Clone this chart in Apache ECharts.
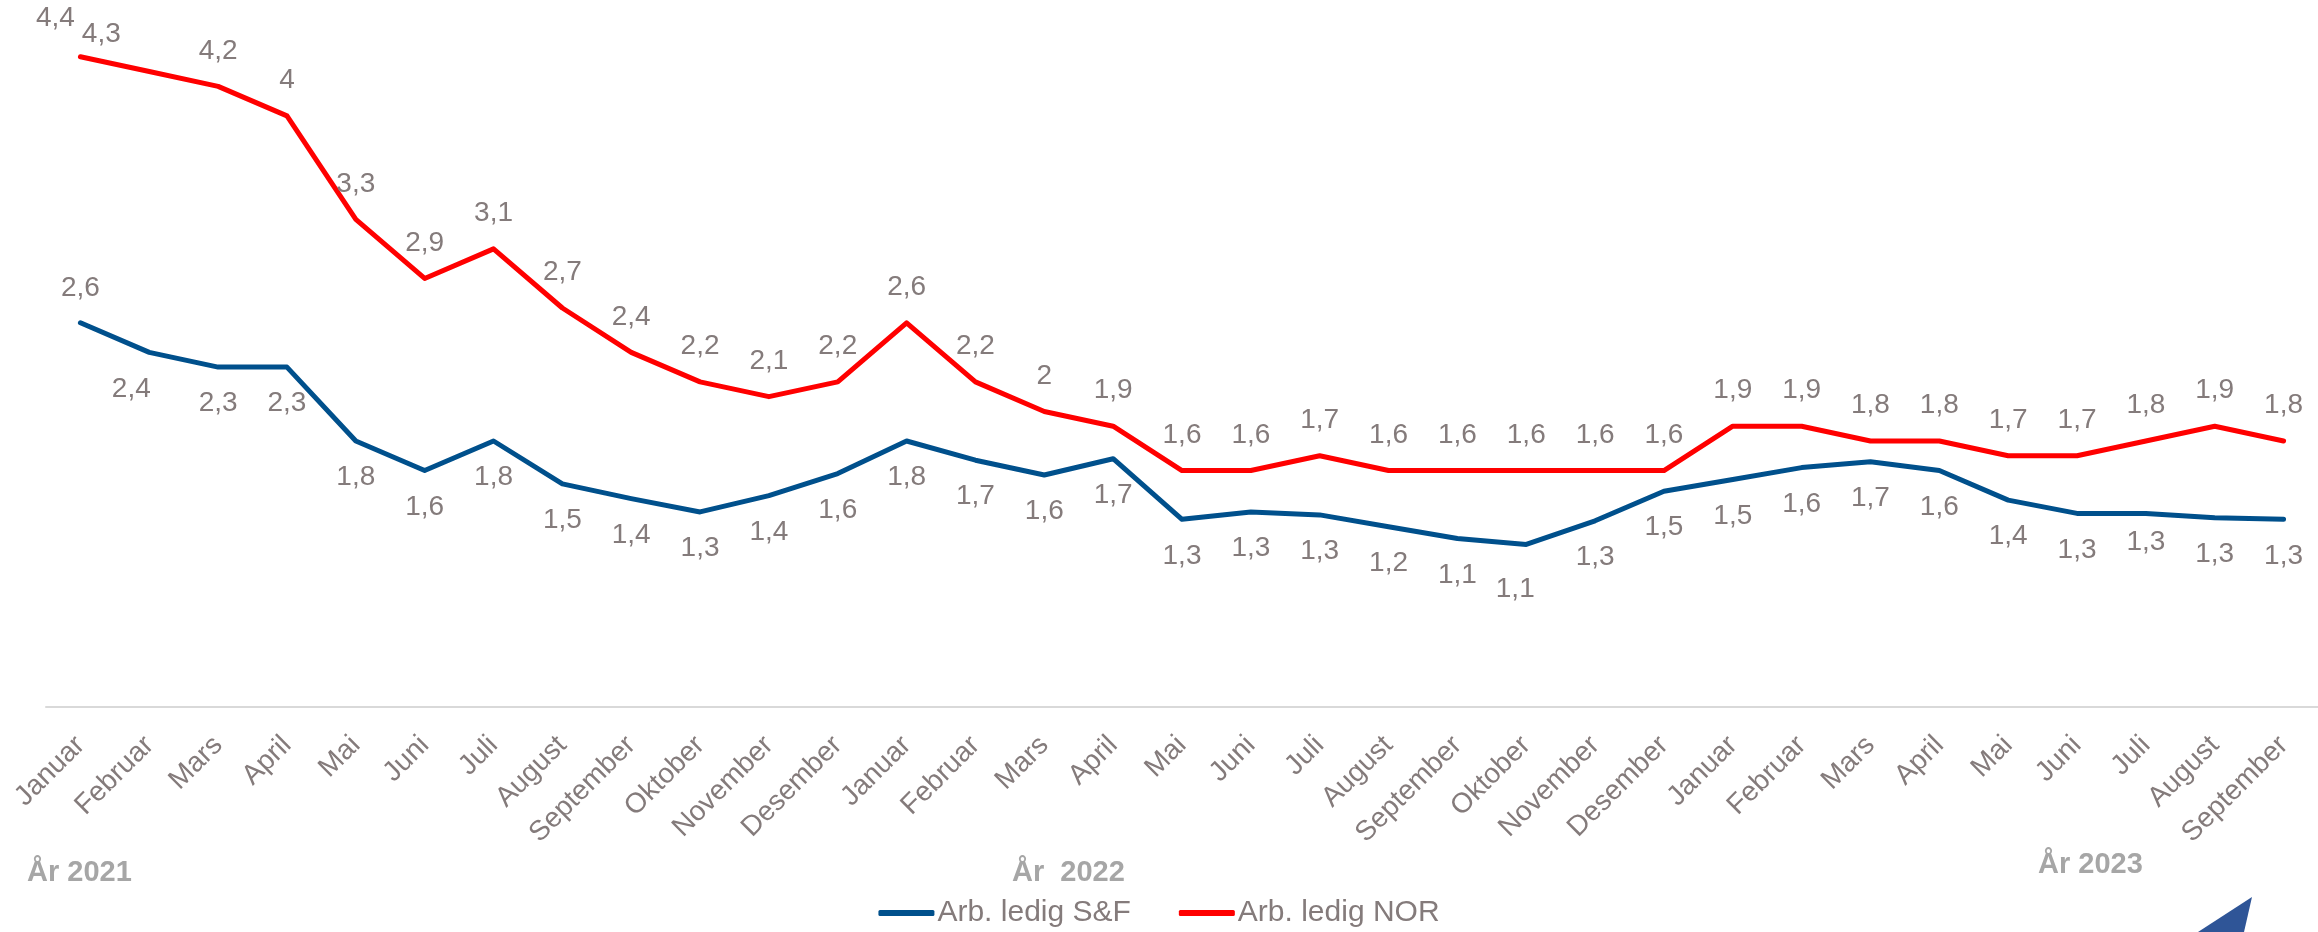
<!DOCTYPE html>
<html>
<head>
<meta charset="utf-8">
<script src="https://cdn.jsdelivr.net/npm/echarts@6/dist/echarts.min.js"></script>
<style>
  html, body { margin: 0; padding: 0; background: #fff; }
  #chart { width: 2318px; height: 932px; }
</style>
</head>
<body>
<div id="chart"></div>
<script>
const monthNames = ['Januar', 'Februar', 'Mars', 'April', 'Mai', 'Juni', 'Juli', 'August',
    'September', 'Oktober', 'November', 'Desember'];
// Jan 2021 - Sep 2023
const months = [...monthNames, ...monthNames, ...monthNames.slice(0, 9)];

const yearLabels = ['År 2021', 'År  2022', 'År 2023'];

const ledigSF = [2.6, 2.4, 2.3, 2.3, 1.8, 1.6, 1.8, 1.51, 1.41, 1.32, 1.43, 1.58,
    1.8, 1.67, 1.57, 1.68, 1.27, 1.32, 1.3, 1.22, 1.14, 1.1, 1.26, 1.46,
    1.54, 1.62, 1.66, 1.6, 1.4, 1.31, 1.31, 1.28, 1.27];

const ledigNOR = [4.4, 4.3, 4.2, 4.0, 3.3, 2.9, 3.1, 2.7, 2.4, 2.2, 2.1, 2.2,
    2.6, 2.2, 2.0, 1.9, 1.6, 1.6, 1.7, 1.6, 1.6, 1.6, 1.6, 1.6,
    1.9, 1.9, 1.8, 1.8, 1.7, 1.7, 1.8, 1.9, 1.8];

const seriesNames = ['Arb. ledig S&F', 'Arb. ledig NOR'];

const FONT = '"Liberation Sans", Arial, sans-serif';
const TXT = '#847b7b';

// a few labels were nudged by hand in the original
const sfLabelFix = {
    0: { position: 'top', distance: 20 },
    1: { offset: [-18, 0] },
    21: { offset: [-11, 8] },
    30: { offset: [0, -8] }
};
const norLabelFix = {
    0: { offset: [-25, -3] },
    1: { offset: [-48, -2] }
};

function fmt(p) {
    return String(Number(p.value.toFixed(1))).replace('.', ',');
}

function withLabels(values, fix) {
    return values.map((v, i) => fix[i] ? { value: v, label: fix[i] } : v);
}

const chart = echarts.init(document.getElementById('chart'));

const option = {
    backgroundColor: '#fff',
    animation: false,
    textStyle: { fontFamily: FONT },
    grid: { left: 46, right: 0, top: 42, bottom: 225 },
    legend: {
        left: 'center',
        top: 893,
        icon: 'roundRect',
        itemWidth: 56,
        itemHeight: 6,
        itemGap: 48,
        textStyle: { color: TXT, fontSize: 30, fontFamily: FONT, padding: [0, 0, 0, -2] },
        data: seriesNames
    },
    xAxis: {
        type: 'category',
        data: months,
        boundaryGap: true,
        axisLine: { lineStyle: { color: '#d9d9d9', width: 2 } },
        axisTick: { show: false },
        axisLabel: {
            interval: 0,
            rotate: 45,
            margin: 34,
            color: TXT,
            fontSize: 28,
            fontFamily: FONT
        }
    },
    yAxis: {
        type: 'value',
        min: 0,
        max: 4.5,
        show: false,
        splitLine: { show: false }
    },
    series: [{
        name: seriesNames[0],
        type: 'line',
        symbol: 'circle',
        symbolSize: 1,
        data: withLabels(ledigSF, sfLabelFix),
        color: '#00508c',
        lineStyle: { width: 5, color: '#00508c', cap: 'round', join: 'round' },
        label: {
            show: true,
            position: 'bottom',
            distance: 22,
            color: TXT,
            fontSize: 28,
            fontFamily: FONT,
            formatter: fmt
        }
    }, {
        name: seriesNames[1],
        type: 'line',
        symbol: 'circle',
        symbolSize: 1,
        data: withLabels(ledigNOR, norLabelFix),
        color: '#ff0000',
        lineStyle: { width: 5, color: '#ff0000', cap: 'round', join: 'round' },
        label: {
            show: true,
            position: 'top',
            distance: 21,
            color: TXT,
            fontSize: 28,
            fontFamily: FONT,
            formatter: fmt
        }
    }],
    graphic: [
        { type: 'text', left: 27, top: 858, style: { text: yearLabels[0], fill: '#a6a6a6', font: 'bold 29px ' + FONT } },
        { type: 'text', left: 1012, top: 858, style: { text: yearLabels[1], fill: '#a6a6a6', font: 'bold 29px ' + FONT } },
        { type: 'text', left: 2038, top: 850, style: { text: yearLabels[2], fill: '#a6a6a6', font: 'bold 29px ' + FONT } },
        {
            type: 'polygon',
            shape: { points: [[2198, 932], [2252, 897], [2244, 932]] },
            style: { fill: '#2f5597' }
        }
    ]
};

chart.setOption(option);
</script>
</body>
</html>
